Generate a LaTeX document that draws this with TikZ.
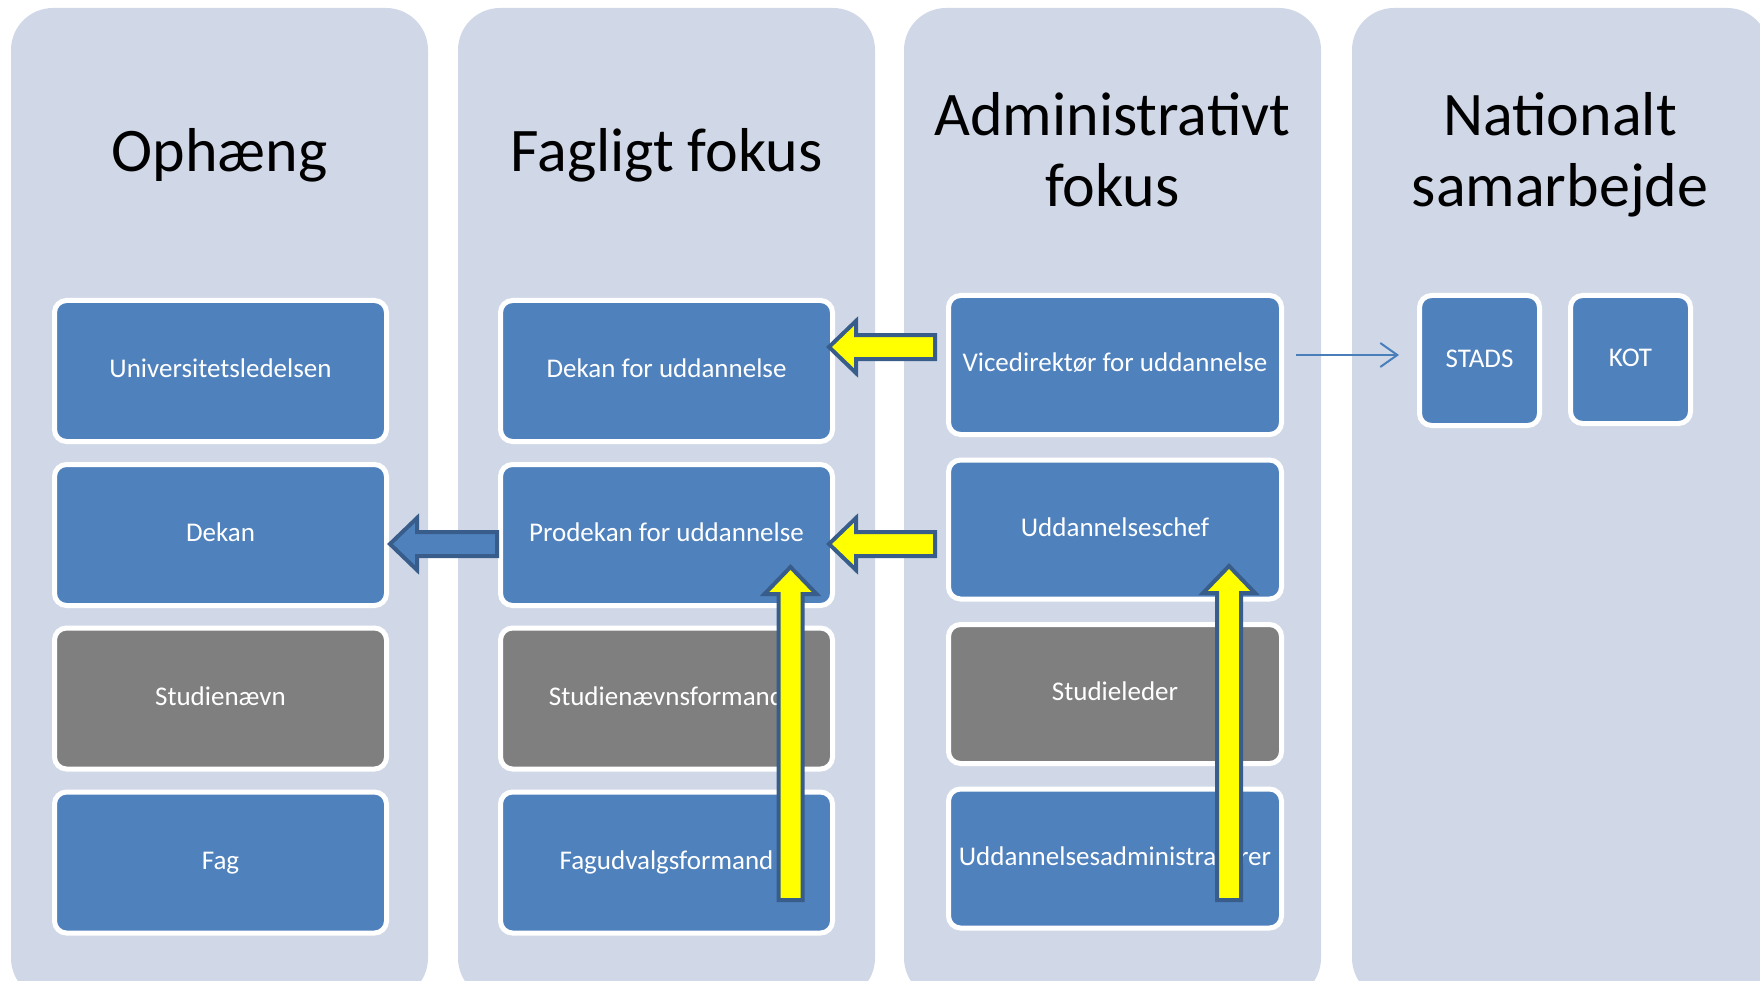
\documentclass[tikz,border=0pt]{standalone}
\usepackage{fontspec}
\setmainfont{Carlito}
\usetikzlibrary{arrows.meta,calc}
\definecolor{colbg}{HTML}{D0D8E8}
\definecolor{boxblue}{HTML}{4F81BD}
\definecolor{boxgray}{HTML}{7F7F7F}
\definecolor{arrline}{HTML}{385D8A}
\definecolor{linkblue}{HTML}{4A7EBB}
\definecolor{hiyellow}{HTML}{FFFF00}
\tikzset{
  pics/blockarrow/.style args={#1/#2}{code={%
    \path[#2] (0,0) -- (27,-26) -- (27,-12) -- (#1,-12) -- (#1,12) -- (27,12) -- (27,26) -- cycle;}}
}
\begin{document}
\begin{tikzpicture}[x=1pt,y=-1pt,
  colbox/.style={fill=colbg, rounded corners=42pt},
  title/.style={font=\fontsize{62}{71}\selectfont, inner sep=0pt, anchor=base},
  role/.style={draw=white, line width=5pt, rounded corners=12pt, text=white,
    font=\fontsize{27}{32}\selectfont, minimum width=332pt, minimum height=141pt,
    inner sep=0pt, text height=20pt, text depth=7pt},
  rolethree/.style={role, minimum width=333pt, minimum height=139pt},
  bluebox/.style={fill=boxblue},
  graybox/.style={fill=boxgray},
  blockline/.style={draw=arrline, line width=4pt, line join=miter},
  yarrow/.style={blockline, fill=hiyellow},
  barrow/.style={blockline, fill=boxblue},
  link/.style={draw=linkblue, line width=2pt, -{Straight Barb[length=17pt,width=24pt]}}
]
\useasboundingbox (0,0) rectangle (1760,981);
\clip (0,0) rectangle (1760,981);

% columns
\fill[colbox] (11,8) rectangle (428,1000);
\fill[colbox] (458,8) rectangle (875,1000);
\fill[colbox] (904,8) rectangle (1321,1000);
\fill[colbox] (1352,8) rectangle (1769,1000);

% titles
\node[title] (t1) at (219.5,172) {Ophæng};
\node[title] (t2) at (666.5,172) {Fagligt fokus};
\node[title] (t3) at (1112.5,136) {\begin{tabular}[t]{@{}c@{}}Administrativt\\fokus\end{tabular}};
\node[title] (t4) at (1560,136) {\begin{tabular}[t]{@{}c@{}}Nationalt\\samarbejde\end{tabular}};

% column 1
\node[role, bluebox] (uni) at (220.5,371) {Universitetsledelsen};
\node[role, bluebox] (dekan) at (220.5,535) {Dekan};
\node[role, graybox] (sn) at (220.5,698.5) {Studienævn};
\node[role, bluebox] (fag) at (220.5,862.5) {Fag};

% column 2
\node[role, bluebox] (dekanU) at (666.5,371) {Dekan for uddannelse};
\node[role, bluebox] (prodekan) at (666.5,535) {Prodekan for uddannelse};
\node[role, graybox] (snf) at (666.5,698.5) {Studienævnsformand};
\node[role, bluebox] (fuf) at (666.5,862.5) {Fagudvalgsformand};

% column 3
\node[rolethree, bluebox] (vice) at (1115,365) {Vicedirektør for uddannelse};
\node[rolethree, bluebox] (chef) at (1115,529.5) {Uddannelseschef};
\node[rolethree, graybox] (sl) at (1115,694) {Studieleder};
\node[rolethree, bluebox] (uadm) at (1115,858.5) {Uddannelsesadministratorer};

% column 4
\node[role, bluebox, minimum width=120pt, minimum height=130pt] (stads) at (1479.5,360.5) {STADS};
\node[role, bluebox, minimum width=120pt, minimum height=128pt] (kot) at (1630.5,359.5) {KOT};

% thin link
\draw[link] ([xshift=12pt,yshift=10pt]vice.east) -- ([xshift=-18pt,yshift=10pt]vice.east -| stads.west);

% block arrows
\pic at ([xshift=-6pt,yshift=24pt]dekanU.east) {blockarrow=106/yarrow};
\pic at ([xshift=-6pt,yshift=-9pt]prodekan.east) {blockarrow=106/yarrow};
\pic at ([xshift=1pt,yshift=-9pt]dekan.east) {blockarrow=107/barrow};
\pic[rotate=-90] at ([xshift=124pt,yshift=41pt]prodekan.south) {blockarrow=333/yarrow};
\pic[rotate=-90] at ([xshift=114pt,yshift=35.5pt]chef.south) {blockarrow=334/yarrow};
\end{tikzpicture}
\end{document}
